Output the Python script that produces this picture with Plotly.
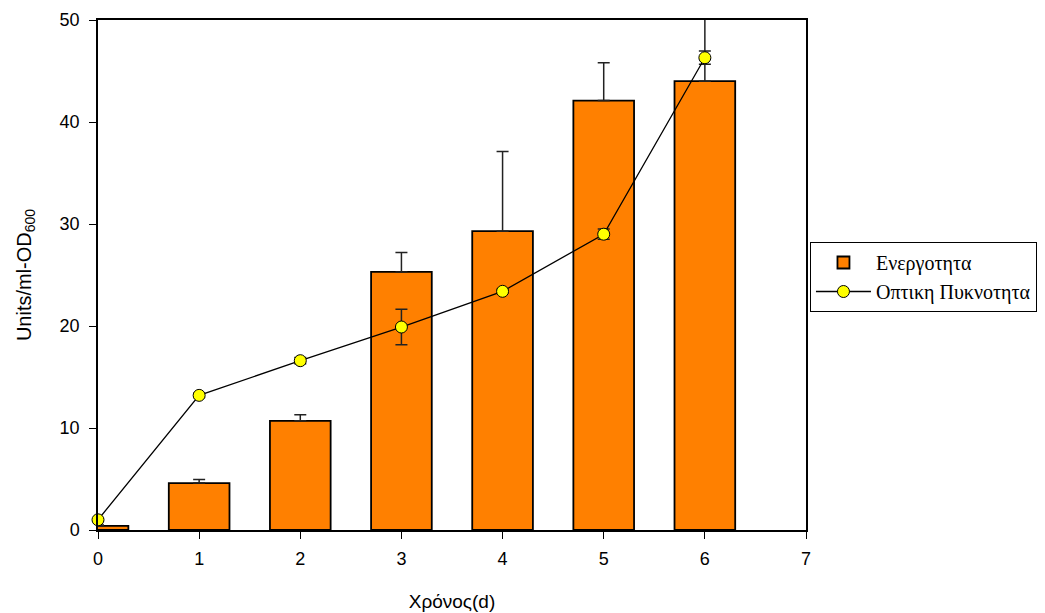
import plotly.graph_objects as go

days = [0, 1, 2, 3, 4, 5, 6]
activity = [0.4, 4.6, 10.7, 25.3, 29.3, 42.1, 44.0]
activity_err = [0.1, 0.35, 0.6, 1.9, 7.8, 3.7, 7.0]
od = [1.0, 13.2, 16.6, 19.9, 23.4, 29.0, 46.3]
od_err = [0.15, 0.2, 0.3, 1.75, 0.2, 0.5, 0.65]

x_ticks = [0, 1, 2, 3, 4, 5, 6, 7]
y_ticks = [0, 10, 20, 30, 40, 50]

fig = go.Figure()
fig.add_trace(go.Bar(
    x=days, y=activity, width=0.6, name="Ενεργοτητα",
    marker=dict(color="#FF8000", line=dict(color="black", width=1.8)),
    error_y=dict(type="data", array=activity_err, arrayminus=[0]*len(days),
                 symmetric=False, color="#222222", thickness=1.5, width=6),
))
fig.add_trace(go.Scatter(
    x=days, y=od, mode="lines+markers", name="Οπτικη Πυκνοτητα",
    line=dict(color="black", width=1.3),
    marker=dict(color="#FFFF00", size=12, line=dict(color="black", width=1)),
    error_y=dict(type="data", array=od_err, color="#222222", thickness=1.5, width=6),
    cliponaxis=False,
))

fig.update_layout(
    width=1037, height=605,
    margin=dict(l=90, r=239, t=12, b=83, autoexpand=False),
    plot_bgcolor="white", paper_bgcolor="white",
    font=dict(family="Liberation Sans, Arial, sans-serif", size=18, color="black"),
    showlegend=True,
    legend=dict(x=1.0056, y=0.5647, xanchor="left", yanchor="top",
                bordercolor="black", borderwidth=1, bgcolor="white",
                font=dict(family="Liberation Serif, Times New Roman, serif", size=20),
                itemwidth=55, tracegroupgap=0),
    xaxis=dict(range=[0, 7], tickvals=x_ticks, ticks="outside", ticklen=7,
               tickcolor="black", showline=True, linecolor="black", linewidth=1.5,
               mirror=True, showgrid=False, zeroline=False, ticklabelstandoff=5,
               automargin=False,
               title=dict(text="Χρόνος(d)", font=dict(size=19), standoff=26)),
    yaxis=dict(range=[0, 50], tickvals=y_ticks, ticks="outside", ticklen=7,
               tickcolor="black", showline=True, linecolor="black", linewidth=1.5,
               mirror=True, showgrid=False, zeroline=False, ticklabelstandoff=6,
               automargin=False,
               title=dict(text="Units/ml-OD<sub>600</sub>", font=dict(size=20), standoff=23)),
)

fig.write_html("out.html")
